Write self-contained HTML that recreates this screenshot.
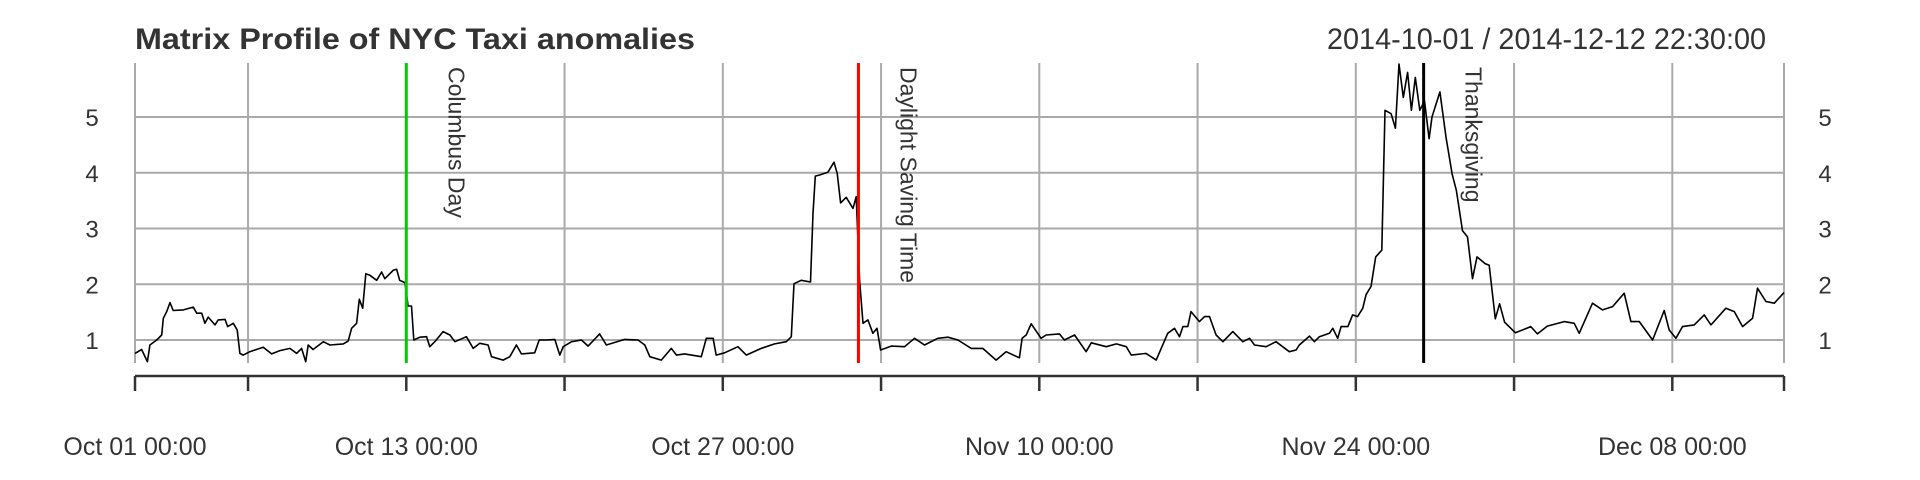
<!DOCTYPE html>
<html><head><meta charset="utf-8"><style>
html,body{margin:0;padding:0;background:#fff;}
svg{display:block;}
text{font-family:"Liberation Sans",Arial,sans-serif;fill:#333;}
</style></head><body>
<svg id="chart" width="1920" height="480" viewBox="0 0 1920 480">
<text x="135" y="49" font-size="30" font-weight="bold" textLength="560" lengthAdjust="spacingAndGlyphs">Matrix Profile of NYC Taxi anomalies</text>
<text x="1766" y="49" font-size="30" text-anchor="end" textLength="439" lengthAdjust="spacingAndGlyphs">2014-10-01 / 2014-12-12 22:30:00</text>
<g id="grid"></g>
<g id="axes"></g>
<g id="series"></g>
<g id="events"></g>
</svg>
<script>
const days=[0,0.29,0.55,0.66,0.96,1.18,1.25,1.40,1.55,1.69,2.14,2.58,2.73,2.95,3.09,3.24,3.54,3.68,3.98,4.10,4.35,4.52,4.64,4.79,5.08,5.67,6.04,6.41,6.85,7.15,7.37,7.55,7.66,7.88,8.33,8.62,9.21,9.43,9.58,9.80,9.92,10.07,10.21,10.39,10.69,10.91,11.05,11.42,11.57,11.71,11.94,12.08,12.23,12.33,12.60,12.90,13.04,13.26,13.63,13.93,14.15,14.66,14.96,15.25,15.62,15.77,16.28,16.58,16.87,17.09,17.68,17.88,18.21,18.57,18.79,18.94,19.31,19.75,20.04,20.55,20.85,21.66,22.25,22.55,22.77,23.28,23.72,23.95,24.31,25.05,25.27,25.57,25.71,26.08,26.67,27.04,27.70,28.29,28.81,29.03,29.15,29.47,29.88,29.99,30.09,30.28,30.65,30.92,31.06,31.21,31.46,31.76,31.90,32.05,32.20,32.42,32.64,32.82,32.98,33.45,34.04,34.48,34.92,35.51,35.96,36.40,36.99,37.50,38.09,38.53,39.12,39.24,39.42,39.64,40.08,40.30,40.89,41.11,41.56,42.07,42.30,42.96,43.41,43.85,44.07,44.72,45.17,45.68,45.98,46.20,46.35,46.57,46.71,47.08,47.31,47.53,47.82,48.12,48.56,49.00,49.30,49.52,50.03,50.47,51.06,51.36,51.50,51.95,52.17,52.39,52.83,52.98,53.20,53.35,53.65,53.86,54.08,54.31,54.45,54.67,54.88,55.15,55.29,55.56,55.75,55.91,56.10,56.29,56.46,56.63,56.83,57.04,57.24,57.37,57.72,57.99,58.26,58.45,58.72,58.94,59.16,59.36,59.72,59.90,60.17,60.36,60.58,61.06,61.74,62.03,62.47,63.22,63.66,63.88,64.47,64.91,65.36,65.87,66.17,66.54,67.13,67.64,67.86,68.16,68.45,68.97,69.41,69.71,70.37,70.74,71.11,71.55,71.77,72.14,72.51,72.94];
const profile=[0.76,0.83,0.61,0.91,1.0,1.09,1.39,1.51,1.67,1.53,1.54,1.59,1.48,1.48,1.30,1.41,1.27,1.36,1.37,1.24,1.30,1.18,0.76,0.73,0.79,0.87,0.75,0.81,0.85,0.76,0.85,0.61,0.91,0.83,0.97,0.91,0.93,0.98,1.21,1.30,1.73,1.57,2.19,2.16,2.07,2.22,2.10,2.25,2.27,2.07,2.03,1.61,1.61,1.0,1.05,1.06,0.88,0.97,1.15,1.09,0.97,1.06,0.85,0.94,0.91,0.70,0.64,0.70,0.91,0.75,0.77,1.0,1.0,1.01,0.73,0.88,0.97,1.0,0.89,1.11,0.91,1.01,1.0,0.91,0.70,0.64,0.85,0.73,0.75,0.70,1.03,1.03,0.73,0.77,0.88,0.73,0.85,0.93,0.97,1.06,2.01,2.07,2.04,3.27,3.94,3.96,4.01,4.19,3.99,3.46,3.56,3.36,3.57,2.07,1.30,1.36,1.12,1.21,0.82,0.89,0.88,1.03,0.91,1.03,1.05,1.0,0.85,0.85,0.64,0.79,0.68,1.03,1.09,1.29,1.03,1.09,1.11,1.0,1.09,0.79,0.95,0.88,0.93,0.88,0.73,0.76,0.64,1.12,1.21,1.06,1.24,1.24,1.51,1.33,1.42,1.42,1.09,0.97,1.15,0.97,1.03,0.91,0.88,0.97,0.79,0.82,0.91,1.07,0.97,1.06,1.12,1.21,1.03,1.24,1.24,1.45,1.42,1.57,1.81,1.96,2.49,2.61,5.12,5.06,4.80,5.95,5.35,5.80,5.12,5.71,5.12,5.29,4.61,5.0,5.45,4.64,3.98,3.68,2.96,2.85,2.10,2.49,2.37,2.34,1.38,1.65,1.32,1.13,1.24,1.11,1.25,1.33,1.30,1.12,1.66,1.54,1.60,1.84,1.33,1.33,1.0,1.53,1.18,1.03,1.24,1.27,1.45,1.27,1.57,1.51,1.24,1.39,1.93,1.69,1.66,1.85];
const yTicks=[1,2,3,4,5];
const xTickDays=[0,5,12,19,26,33,40,47,54,61,68,72.94];
const xLabelDays=[0,12,26,40,54,68];
const xLabels=["Oct 01 00:00","Oct 13 00:00","Oct 27 00:00","Nov 10 00:00","Nov 24 00:00","Dec 08 00:00"];
const eventDays=[12,32,57];
const eventNames=["Columbus Day","Daylight Saving Time","Thanksgiving"];
const eventColors=["#00cc00","#ff0000","#000000"];

const NS="http://www.w3.org/2000/svg";
const X0=135,X1=1784,D1=72.94,PT=63,PB=363;
function xs(d){return X0+(d/D1)*(X1-X0);}
function ys(v){return 340-(v-1)*55.75;}
function mk(tag,attrs,parent){const e=document.createElementNS(NS,tag);for(const k in attrs)e.setAttribute(k,attrs[k]);parent.appendChild(e);return e;}
const grid=document.getElementById('grid'),axes=document.getElementById('axes'),series=document.getElementById('series'),events=document.getElementById('events');

yTicks.forEach(v=>{
  const l=mk('line',{x1:X0,x2:X1,y1:ys(v),y2:ys(v),stroke:'#aaaaaa','stroke-width':2},grid);
  
  
  const t1=mk('text',{x:92,y:ys(v)+9,'font-size':24,'text-anchor':'middle'},axes);
  t1.textContent=v;
  
  
  const t2=mk('text',{x:1825,y:ys(v)+9,'font-size':24,'text-anchor':'middle'},axes);
  t2.textContent=v;
  
  
});
xTickDays.forEach(d=>{
  const g=mk('line',{x1:xs(d),x2:xs(d),y1:PT,y2:PB,stroke:'#aaaaaa','stroke-width':2},grid);
  
  
  const t=mk('line',{x1:xs(d),x2:xs(d),y1:376,y2:391,stroke:'#333333','stroke-width':2.5},axes);
  
  
});
const ax=mk('line',{x1:X0,x2:X1,y1:376,y2:376,stroke:'#333333','stroke-width':2.5},axes);


xLabelDays.forEach((d,i)=>{
  const t=mk('text',{x:xs(d),y:455,'font-size':25,'text-anchor':'middle'},axes);
  t.textContent=xLabels[i];
  
  
});
const pts=days.map((d,i)=>xs(d).toFixed(1)+','+ys(profile[i]).toFixed(1)).join(' ');
const pl=mk('polyline',{points:pts,fill:'none',stroke:'#000','stroke-width':1.6,'stroke-linejoin':'round'},series);


eventDays.forEach((d,i)=>{
  const l=mk('line',{x1:xs(d),x2:xs(d),y1:PT,y2:PB,stroke:eventColors[i],'stroke-width':3},events);
  
  
  const tx=xs(d)+50;
  const t=mk('text',{x:tx,y:67,'font-size':23,'dominant-baseline':'central',transform:'rotate(90 '+tx+' 67)'},events);
  t.textContent=eventNames[i];
  
  
});
</script>
</body></html>
